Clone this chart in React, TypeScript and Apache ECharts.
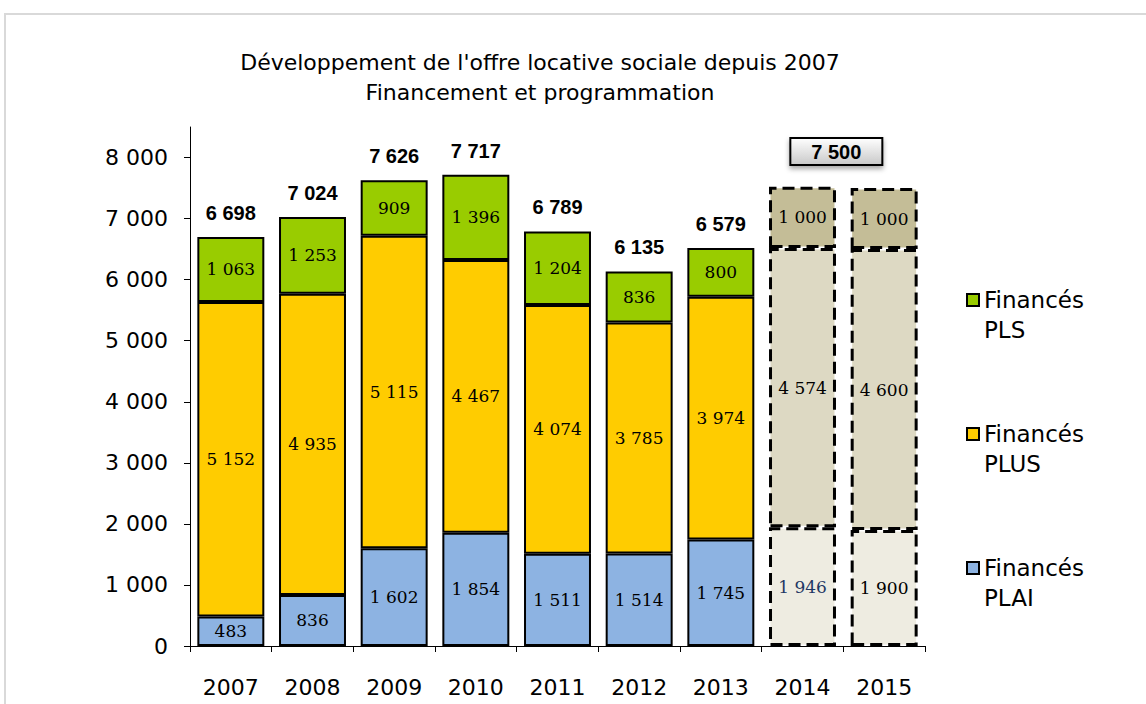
import React, { useEffect, useRef } from "react";
import * as echarts from "echarts";

const categories = ["2007", "2008", "2009", "2010", "2011", "2012", "2013", "2014", "2015"];
const plaiValues = [483, 836, 1602, 1854, 1511, 1514, 1745, 1946, 1900];
const plusValues = [5152, 4935, 5115, 4467, 4074, 3785, 3974, 4574, 4600];
const plsValues = [1063, 1253, 909, 1396, 1204, 836, 800, 1000, 1000];
const totalLabels = [6698, 7024, 7626, 7717, 6789, 6135, 6579, null, null];
const projectedYears = ["2014", "2015"];
const projectedTotal = 7500;
const yTicks = [0, 1000, 2000, 3000, 4000, 5000, 6000, 7000, 8000];

const fmt = (n: number) => String(n).replace(/\B(?=(\d{3})+(?!\d))/g, " ");

const seriesDefs = [
  { name: "Financés PLAI", values: plaiValues, color: "#8DB3E2", projColor: "#EEECE1", projLabels: ["#1F3864", "#000"] },
  { name: "Financés PLUS", values: plusValues, color: "#FFCC00", projColor: "#DDD9C3", projLabels: ["#000", "#000"] },
  { name: "Financés PLS", values: plsValues, color: "#99CC00", projColor: "#C4BD97", projLabels: ["#000", "#000"] },
];

const SANS = "DejaVu Sans";

export default function App() {
  const ref = useRef<HTMLDivElement>(null);
  useEffect(() => {
    if (!ref.current) return;
    const chart = echarts.init(ref.current, null, { renderer: "svg" });
    const series: any[] = seriesDefs.map((d) => ({
      name: d.name,
      type: "bar",
      stack: "total",
      barCategoryGap: "18%",
      itemStyle: { color: d.color, borderColor: "#000", borderWidth: 2 },
      label: {
        show: true,
        position: "inside",
        fontFamily: "DejaVu Serif",
        fontSize: 17,
        color: "#000",
        formatter: (p: any) => fmt(p.value),
      },
      data: d.values.map((v, i) => {
        const k = projectedYears.indexOf(categories[i]);
        return k >= 0
          ? {
              value: v,
              itemStyle: { color: d.projColor, borderColor: "#000", borderWidth: 3, borderType: "dashed" },
              label: { color: d.projLabels[k] },
            }
          : v;
      }),
    }));
    series.push({
      name: "Total",
      type: "bar",
      stack: "total",
      itemStyle: { color: "transparent", borderWidth: 0 },
      label: {
        show: true,
        position: "top",
        distance: 14,
        fontFamily: "Liberation Sans",
        fontWeight: "bold",
        fontSize: 20,
        color: "#000",
        formatter: (p: any) => (totalLabels[p.dataIndex] == null ? "" : fmt(totalLabels[p.dataIndex] as number)),
      },
      data: categories.map(() => 0),
    });

    chart.setOption({
      animation: false,
      backgroundColor: "#fff",
      title: {
        text: "Développement de l'offre locative sociale depuis 2007\nFinancement et programmation",
        left: 535,
        top: 42,
        textAlign: "center",
        textStyle: { fontFamily: SANS, fontSize: 22, fontWeight: "normal", color: "#000", lineHeight: 30 },
      },
      legend: {
        data: ["Financés PLS", "Financés PLUS", "Financés PLAI"],
        orient: "vertical",
        left: 961,
        top: 250,
        itemGap: 44,
        itemWidth: 12,
        itemHeight: 12,
        icon: "rect",
        selectedMode: false,
        formatter: (name: string) => "\n" + name.replace(" ", "\n"),
        textStyle: { fontFamily: SANS, fontSize: 23, color: "#000", lineHeight: 30 },
      },
      grid: { left: 190, right: 221, top: 127, bottom: 58 },
      xAxis: {
        type: "category",
        data: categories,
        axisLine: { lineStyle: { color: "#000", width: 1 } },
        axisTick: { show: true, length: 6, lineStyle: { color: "#000" } },
        axisLabel: { fontFamily: SANS, fontSize: 22, color: "#000", margin: 30 },
      },
      yAxis: {
        type: "value",
        min: 0,
        max: 8500,
        interval: 1000,
        splitLine: { show: false },
        axisLine: { show: true, lineStyle: { color: "#000", width: 1 } },
        axisTick: { show: true, length: 6, lineStyle: { color: "#000" } },
        axisLabel: {
          fontFamily: SANS,
          fontSize: 22,
          color: "#000",
          margin: 22,
          showMaxLabel: false,
          formatter: (v: number) => (yTicks.includes(v) ? fmt(v) : ""),
        },
      },
      series,
    });

    const p1 = chart.convertToPixel({ xAxisIndex: 0, yAxisIndex: 0 }, [projectedYears[0], projectedTotal]) as number[];
    const p2 = chart.convertToPixel({ xAxisIndex: 0, yAxisIndex: 0 }, [projectedYears[1], projectedTotal]) as number[];
    const cx = (p1[0] + p2[0]) / 2 - 7;
    const cy = p1[1] - 37;
    chart.setOption({
      graphic: [
        {
          type: "polyline",
          shape: { points: [[5, 704], [5, 14], [1146, 14]] },
          style: { stroke: "#d9d9d9", lineWidth: 2, fill: null },
          silent: true,
        },
        {
          type: "rect",
          shape: { x: cx - 46, y: cy - 13, width: 92, height: 27 },
          style: {
            fill: new echarts.graphic.LinearGradient(0, 0, 0, 1, [
              { offset: 0, color: "#ffffff" },
              { offset: 1, color: "#c8c8c8" },
            ]),
            stroke: "#000",
            lineWidth: 2,
            shadowBlur: 5,
            shadowOffsetY: 3,
            shadowColor: "rgba(0,0,0,0.35)",
          },
        },
        {
          type: "text",
          x: cx,
          y: cy + 1,
          style: {
            text: fmt(projectedTotal),
            fontFamily: "Liberation Sans",
            fontWeight: "bold",
            fontSize: 20,
            fill: "#000",
            textAlign: "center",
            textVerticalAlign: "middle",
          },
        },
      ],
    });
    return () => chart.dispose();
  }, []);
  return <div ref={ref} style={{ position: "fixed", left: 0, top: 0, width: 1146, height: 704 }} />;
}
